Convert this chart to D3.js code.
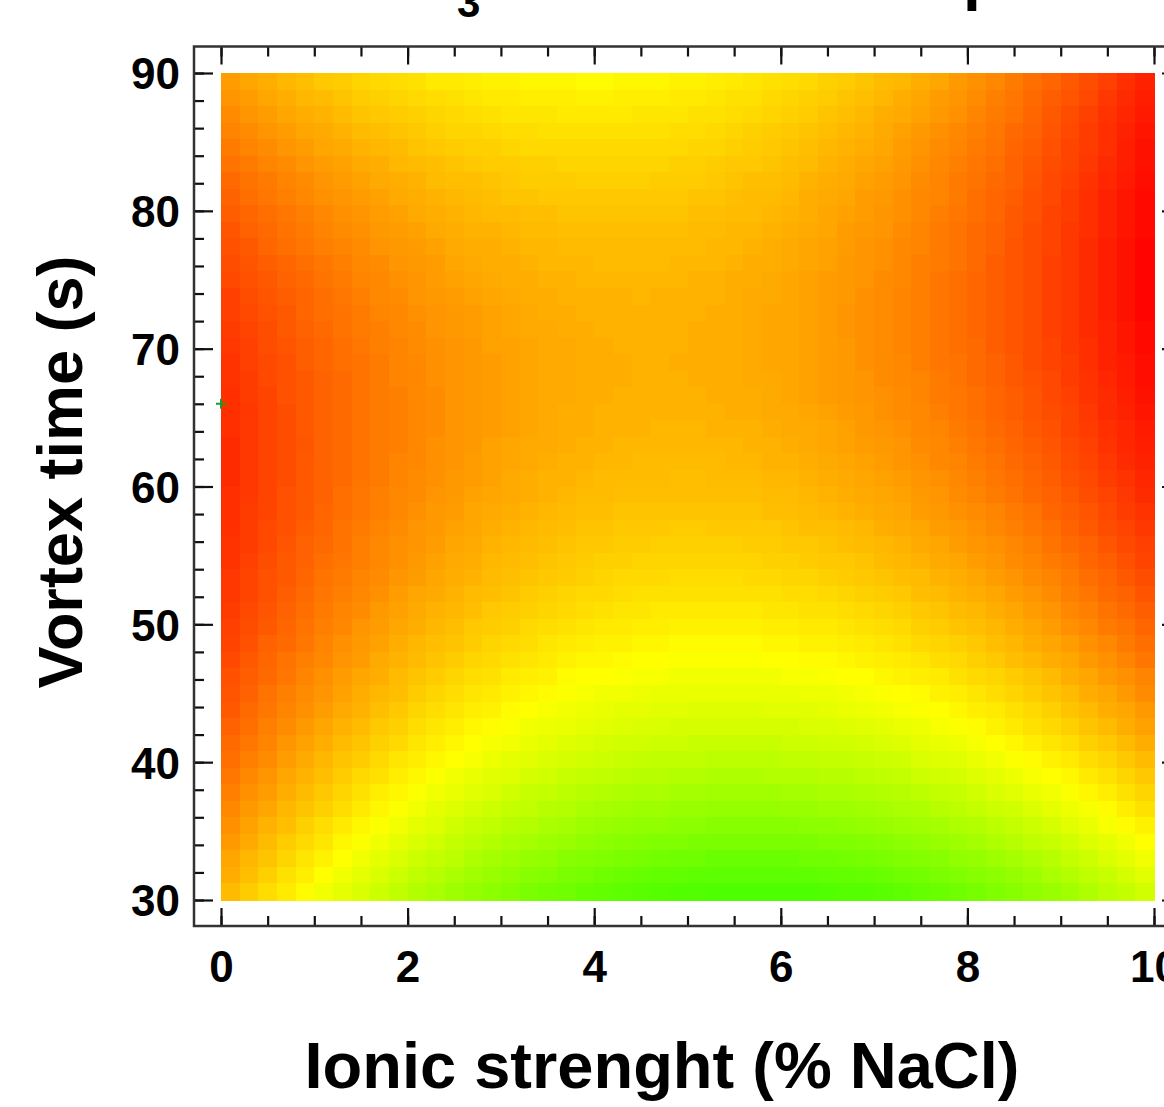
<!DOCTYPE html>
<html>
<head>
<meta charset="utf-8">
<script src="https://cdn.jsdelivr.net/npm/d3@7"></script>
<style>
body { margin: 0; background: #fff; }
svg { display: block; font-family: "Liberation Sans", Arial, sans-serif; font-weight: bold; }
</style>
</head>
<body>
<svg id="chart" width="1164" height="1107"></svg>
<script>

// centres of the density grid: columns in % NaCl, rows in seconds (top row first)
var nacl = [0.1,0.3,0.5,0.7,0.9,1.1,1.3,1.5,1.7,1.9,2.1,2.3,2.5,2.7,2.9,3.1,3.3,3.5,3.7,3.9,
            4.1,4.3,4.5,4.7,4.9,5.1,5.3,5.5,5.7,5.9,6.1,6.3,6.5,6.7,6.9,7.1,7.3,7.5,7.7,7.9,
            8.1,8.3,8.5,8.7,8.9,9.1,9.3,9.5,9.7,9.9];
var vortex = [89.4,88.2,87.0,85.8,84.6,83.4,82.2,81.0,79.8,78.6,77.4,76.2,75.0,73.8,72.6,71.4,70.2,69.0,67.8,66.6,
              65.4,64.2,63.0,61.8,60.6,59.4,58.2,57.0,55.8,54.6,53.4,52.2,51.0,49.8,48.6,47.4,46.2,45.0,43.8,42.6,
              41.4,40.2,39.0,37.8,36.6,35.4,34.2,33.0,31.8,30.6];

// response (0 = red ... 108 = green)
var response = [
  [37,39,41,43,45,47,48,50,51,52,53,55,55,56,57,57,58,58,58,59,59,58,58,58,57,57,56,55,54,53,52,51,49,48,46,44,43,41,39,36,34,32,29,26,24,21,18,15,11,8],
  [35,37,39,41,43,44,46,48,49,50,51,52,53,54,55,55,56,56,56,57,57,56,56,56,55,55,54,53,53,51,50,49,48,46,45,43,41,39,37,35,33,30,28,25,22,20,17,13,10,7],
  [33,35,37,39,41,42,44,46,47,48,49,50,51,52,53,54,54,54,55,55,55,55,54,54,54,53,53,52,51,50,49,48,46,45,43,41,40,38,36,34,31,29,27,24,21,18,15,12,9,6],
  [31,33,35,37,39,40,42,44,45,46,47,49,50,50,51,52,52,53,53,53,53,53,53,53,52,52,51,50,49,48,47,46,45,43,42,40,38,36,34,32,30,28,25,23,20,17,14,11,8,5],
  [29,31,33,35,37,39,40,42,43,44,46,47,48,49,49,50,51,51,51,51,51,51,51,51,51,50,50,49,48,47,46,45,43,42,41,39,37,35,33,31,29,27,24,22,19,16,14,11,7,4],
  [27,29,31,33,35,37,38,40,41,43,44,45,46,47,48,48,49,49,50,50,50,50,50,50,49,49,48,47,47,46,45,44,42,41,39,38,36,34,32,30,28,26,23,21,18,16,13,10,7,4],
  [25,27,29,31,33,35,37,38,40,41,42,44,45,45,46,47,48,48,48,49,49,49,49,48,48,48,47,46,45,45,44,42,41,40,38,37,35,33,31,29,27,25,23,20,17,15,12,9,6,3],
  [23,26,28,30,32,34,35,37,38,40,41,42,43,44,45,46,46,47,47,47,47,47,47,47,47,46,46,45,44,44,43,41,40,39,37,36,34,32,31,29,26,24,22,19,17,14,11,8,5,2],
  [22,24,26,28,30,32,34,35,37,38,40,41,42,43,44,44,45,45,46,46,46,46,46,46,46,45,45,44,44,43,42,41,39,38,37,35,34,32,30,28,26,24,21,19,16,14,11,8,5,2],
  [20,23,25,27,29,31,33,34,36,37,38,40,41,42,42,43,44,44,45,45,45,45,45,45,45,44,44,43,43,42,41,40,39,37,36,35,33,31,29,27,25,23,21,18,16,13,11,8,5,2],
  [19,21,24,26,28,30,31,33,35,36,37,38,40,41,41,42,43,43,44,44,44,44,44,44,44,44,43,43,42,41,40,39,38,37,35,34,32,31,29,27,25,23,20,18,16,13,10,7,4,1],
  [18,20,22,24,26,28,30,32,33,35,36,37,39,40,41,41,42,43,43,43,44,44,44,44,43,43,43,42,41,41,40,39,38,36,35,34,32,30,29,27,25,22,20,18,15,13,10,7,4,1],
  [17,19,21,23,25,27,29,31,32,34,35,37,38,39,40,41,41,42,42,43,43,43,43,43,43,42,42,41,41,40,39,38,37,36,35,33,32,30,28,26,24,22,20,18,15,13,10,7,4,1],
  [15,18,20,22,24,26,28,30,32,33,35,36,37,38,39,40,41,41,42,42,42,42,43,42,42,42,42,41,40,40,39,38,37,36,34,33,31,30,28,26,24,22,20,18,15,13,10,7,4,1],
  [15,17,19,21,24,26,27,29,31,32,34,35,36,37,38,39,40,41,41,42,42,42,42,42,42,42,41,41,40,39,39,38,37,35,34,33,31,30,28,26,24,22,20,18,15,13,10,7,4,1],
  [14,16,18,21,23,25,27,29,30,32,33,35,36,37,38,39,40,40,41,41,42,42,42,42,42,41,41,41,40,39,39,38,37,35,34,33,31,30,28,26,24,22,20,18,15,13,10,8,5,2],
  [13,15,18,20,22,24,26,28,30,31,33,34,35,36,38,38,39,40,40,41,41,42,42,42,42,41,41,41,40,39,39,38,37,36,34,33,31,30,28,26,25,22,20,18,16,13,11,8,5,2],
  [12,15,17,19,22,24,26,27,29,31,32,34,35,36,37,38,39,40,40,41,41,41,42,42,41,41,41,41,40,39,39,38,37,36,34,33,32,30,28,27,25,23,21,18,16,14,11,8,6,3],
  [12,14,17,19,21,23,25,27,29,31,32,34,35,36,37,38,39,40,40,41,41,41,42,42,42,41,41,41,40,40,39,38,37,36,35,33,32,31,29,27,25,23,21,19,17,14,12,9,6,3],
  [11,14,16,19,21,23,25,27,29,30,32,33,35,36,37,38,39,40,40,41,41,42,42,42,42,42,41,41,41,40,39,38,37,36,35,34,33,31,29,28,26,24,22,20,17,15,12,10,7,4],
  [11,13,16,18,21,23,25,27,29,30,32,33,35,36,37,38,39,40,41,41,42,42,42,42,42,42,42,41,41,40,40,39,38,37,36,34,33,32,30,28,26,24,22,20,18,16,13,10,8,5],
  [11,13,16,18,21,23,25,27,29,30,32,33,35,36,37,38,39,40,41,41,42,42,42,43,43,43,42,42,42,41,40,40,39,38,36,35,34,32,31,29,27,25,23,21,19,16,14,11,9,6],
  [10,13,16,18,20,23,25,27,29,30,32,34,35,36,38,39,40,40,41,42,42,43,43,43,43,43,43,43,42,42,41,40,39,38,37,36,35,33,32,30,28,26,24,22,20,17,15,12,9,7],
  [10,13,16,18,21,23,25,27,29,31,32,34,35,37,38,39,40,41,42,42,43,43,44,44,44,44,44,43,43,42,42,41,40,39,38,37,35,34,32,31,29,27,25,23,21,18,16,13,10,8],
  [10,13,16,18,21,23,25,27,29,31,33,34,36,37,38,40,41,42,42,43,44,44,44,44,45,45,44,44,44,43,43,42,41,40,39,38,37,35,34,32,30,28,26,24,22,19,17,14,12,9],
  [11,13,16,19,21,23,26,28,30,32,33,35,36,38,39,40,41,42,43,44,44,45,45,45,45,45,45,45,45,44,44,43,42,41,40,39,38,36,35,33,31,29,27,25,23,21,18,16,13,10],
  [11,14,16,19,21,24,26,28,30,32,34,36,37,39,40,41,42,43,44,45,45,46,46,46,46,46,46,46,46,45,45,44,43,42,41,40,39,37,36,34,33,31,29,27,24,22,20,17,14,12],
  [11,14,17,19,22,24,27,29,31,33,35,36,38,39,41,42,43,44,45,46,46,47,47,47,48,48,47,47,47,47,46,45,45,44,43,41,40,39,37,36,34,32,30,28,26,23,21,18,16,13],
  [12,14,17,20,23,25,27,30,32,34,35,37,39,40,42,43,44,45,46,47,47,48,48,49,49,49,49,49,48,48,47,47,46,45,44,43,42,40,39,37,35,34,32,30,27,25,23,20,17,15],
  [12,15,18,21,23,26,28,30,32,34,36,38,40,41,43,44,45,46,47,48,49,49,50,50,50,50,50,50,50,49,49,48,47,47,46,44,43,42,40,39,37,35,33,31,29,27,24,22,19,16],
  [13,16,19,21,24,27,29,31,33,35,37,39,41,42,44,45,46,47,48,49,50,51,51,51,52,52,52,52,51,51,50,50,49,48,47,46,45,44,42,41,39,37,35,33,31,29,26,24,21,18],
  [13,16,19,22,25,28,30,32,34,37,39,40,42,44,45,46,48,49,50,51,51,52,53,53,53,53,53,53,53,53,52,52,51,50,49,48,47,45,44,42,41,39,37,35,33,30,28,25,23,20],
  [14,17,20,23,26,29,31,33,36,38,40,42,43,45,47,48,49,50,51,52,53,54,54,55,55,55,55,55,55,54,54,53,53,52,51,50,49,47,46,44,43,41,39,37,35,32,30,27,25,22],
  [15,18,21,24,27,30,32,35,37,39,41,43,45,47,48,49,51,52,53,54,55,55,56,56,57,57,57,57,57,56,56,55,55,54,53,52,51,49,48,46,45,43,41,39,37,34,32,29,27,24],
  [16,19,23,25,28,31,34,36,38,41,43,45,46,48,50,51,52,54,55,56,57,57,58,58,59,59,59,59,59,58,58,57,57,56,55,54,53,51,50,49,47,45,43,41,39,37,34,32,29,26],
  [17,21,24,27,30,32,35,37,40,42,44,46,48,50,51,53,54,55,57,58,58,59,60,60,61,61,61,61,61,60,60,59,59,58,57,56,55,54,52,51,49,47,45,43,41,39,36,34,31,28],
  [19,22,25,28,31,34,37,39,41,44,46,48,50,52,53,55,56,57,59,60,60,61,62,62,63,63,63,63,63,63,62,62,61,60,60,58,57,56,55,53,51,50,48,46,44,41,39,36,34,31],
  [20,23,27,30,33,35,38,41,43,45,48,50,52,54,55,57,58,59,61,62,63,63,64,65,65,65,65,65,65,65,65,64,64,63,62,61,60,59,57,56,54,52,50,48,46,44,41,39,36,33],
  [21,25,28,31,34,37,40,42,45,47,50,52,54,56,57,59,60,62,63,64,65,66,66,67,67,68,68,68,68,67,67,67,66,65,64,63,62,61,60,58,56,55,53,51,49,46,44,41,39,36],
  [23,26,30,33,36,39,42,44,47,49,52,54,56,58,59,61,63,64,65,66,67,68,69,69,70,70,70,70,70,70,70,69,69,68,67,66,65,64,62,61,59,57,55,53,51,49,46,44,41,38],
  [25,28,31,35,38,41,44,46,49,51,54,56,58,60,62,63,65,66,68,69,70,71,71,72,72,73,73,73,73,73,72,72,71,71,70,69,68,66,65,64,62,60,58,56,54,52,49,47,44,41],
  [26,30,33,37,40,43,46,48,51,54,56,58,60,62,64,66,67,69,70,71,72,73,74,75,75,75,76,76,76,76,75,75,74,74,73,72,71,69,68,67,65,63,61,59,57,55,52,50,47,44],
  [28,32,35,39,42,45,48,51,53,56,58,61,63,65,67,68,70,71,73,74,75,76,77,77,78,78,79,79,79,78,78,78,77,77,76,75,74,72,71,70,68,66,64,62,60,58,55,53,50,47],
  [30,34,37,41,44,47,50,53,56,58,61,63,65,67,69,71,73,74,76,77,78,79,80,80,81,81,82,82,82,82,81,81,80,80,79,78,77,76,74,73,71,69,67,65,63,61,58,56,53,50],
  [32,36,39,43,46,49,52,55,58,61,63,66,68,70,72,74,75,77,78,80,81,82,83,83,84,84,85,85,85,85,84,84,83,83,82,81,80,79,77,76,74,72,71,69,66,64,62,59,56,53],
  [34,38,42,45,49,52,55,58,61,63,66,68,71,73,75,77,78,80,81,83,84,85,86,86,87,87,88,88,88,88,88,87,87,86,85,84,83,82,81,79,78,76,74,72,70,67,65,62,59,57],
  [36,40,44,48,51,54,58,61,63,66,69,71,74,76,78,80,81,83,84,86,87,88,89,90,90,91,91,91,91,91,91,91,90,90,89,88,87,86,84,83,81,79,77,75,73,71,68,66,63,60],
  [39,43,46,50,54,57,60,63,66,69,72,74,76,79,81,83,85,86,88,89,90,91,92,93,94,94,95,95,95,95,95,94,94,93,92,91,90,89,88,86,85,83,81,79,77,74,72,69,66,63],
  [41,45,49,53,56,60,63,66,69,72,75,77,80,82,84,86,88,89,91,92,94,95,96,97,97,98,98,98,98,98,98,98,97,97,96,95,94,93,91,90,88,87,85,83,80,78,75,73,70,67],
  [44,48,52,55,59,63,66,69,72,75,78,80,83,85,87,89,91,93,94,96,97,98,99,100,101,101,102,102,102,102,102,102,101,100,100,99,98,96,95,94,92,90,88,86,84,82,79,76,74,71]
];

var xTicks = [0, 2, 4, 6, 8, 10];
var yTicks = [30, 40, 50, 60, 70, 80, 90];
var marker = [{nacl: 0, vortex: 66}];

var svg = d3.select('#chart');

var x = d3.scaleLinear().domain([0, 10]).range([221, 1154]);
var y = d3.scaleLinear().domain([30, 90]).range([900, 73]);
var color = d3.scaleLinear()
    .domain([0, 108])
    .range([d3.hsl(0, 1, 0.5), d3.hsl(108, 1, 0.5)])
    .interpolate(d3.interpolateHsl);

// frame sits a little outside the data range
var frame = {left: 194, right: 1181, top: 46.5, bottom: 926};

// density cells
var dx = nacl[1] - nacl[0];
var dy = vortex[0] - vortex[1];
var cells = [];
for (var i=0; i<vortex.length; i++)
    for (var j=0; j<nacl.length; j++)
        cells.push({nacl: nacl[j], vortex: vortex[i], v: response[i][j]});

svg.append('g')
    .attr('shape-rendering', 'crispEdges')
  .selectAll('rect')
  .data(cells)
  .enter().append('rect')
    .attr('x', function(d) { return x(d.nacl - dx/2); })
    .attr('y', function(d) { return y(d.vortex + dy/2); })
    .attr('width', x(dx) - x(0) + 0.6)
    .attr('height', y(0) - y(dy) + 0.6)
    .attr('fill', function(d) { return color(d.v); });

// marker at the left edge
svg.selectAll('.marker')
  .data(marker)
  .enter().append('path')
    .attr('class', 'marker')
    .attr('d', function(d) {
        var cx = x(d.nacl), cy = y(d.vortex);
        return 'M'+(cx-5)+','+cy+'H'+(cx+5)+'M'+cx+','+(cy-5)+'V'+(cy+5);
    })
    .attr('stroke', '#1e9a2a')
    .attr('stroke-width', 2);

// axes: ticks point inward on all four sides
function styleAxis(g)
{
    g.select('.domain').remove();
    g.selectAll('line').attr('stroke', '#111').attr('stroke-width', 2.2);
    g.selectAll('text').attr('fill', '#000').style('font-size', '44px')
        .style('font-family', '"Liberation Sans", Arial, sans-serif').style('font-weight', 'bold');
}

var xMinor = x.ticks(20), yMinor = y.ticks(30);

svg.append('g').attr('transform', 'translate(0,'+frame.bottom+')')
    .call(d3.axisBottom(x).tickValues(xMinor).tickSize(-10).tickFormat(''))
    .call(styleAxis);
svg.append('g').attr('transform', 'translate(0,'+frame.bottom+')')
    .call(d3.axisBottom(x).tickValues(xTicks).tickSize(-18).tickPadding(25).tickFormat(d3.format('d')))
    .call(styleAxis);
svg.append('g').attr('transform', 'translate(0,'+frame.top+')')
    .call(d3.axisTop(x).tickValues(xMinor).tickSize(-10).tickFormat(''))
    .call(styleAxis);
svg.append('g').attr('transform', 'translate(0,'+frame.top+')')
    .call(d3.axisTop(x).tickValues(xTicks).tickSize(-18).tickFormat(''))
    .call(styleAxis);

svg.append('g').attr('transform', 'translate('+frame.left+',0)')
    .call(d3.axisLeft(y).tickValues(yMinor).tickSize(-10).tickFormat(''))
    .call(styleAxis);
svg.append('g').attr('transform', 'translate('+frame.left+',0)')
    .call(d3.axisLeft(y).tickValues(yTicks).tickSize(-19).tickPadding(14).tickFormat(d3.format('d')))
    .call(styleAxis)
    .selectAll('text').attr('dy', '0.36em');
svg.append('g').attr('transform', 'translate('+frame.right+',0)')
    .call(d3.axisRight(y).tickValues(yMinor).tickSize(-10).tickFormat(''))
    .call(styleAxis);
svg.append('g').attr('transform', 'translate('+frame.right+',0)')
    .call(d3.axisRight(y).tickValues(yTicks).tickSize(-19).tickFormat(''))
    .call(styleAxis);

svg.append('rect')
    .attr('x', frame.left).attr('y', frame.top)
    .attr('width', frame.right - frame.left).attr('height', frame.bottom - frame.top)
    .attr('fill', 'none').attr('stroke', '#333').attr('stroke-width', 2.5);

// axis titles
svg.append('text')
    .attr('x', 662).attr('y', 1088)
    .attr('text-anchor', 'middle')
    .style('font-size', '65px')
    .text('Ionic strenght (% NaCl)');

svg.append('text')
    .attr('transform', 'translate(82,472) rotate(-90)')
    .attr('text-anchor', 'middle')
    .style('font-size', '63px')
    .text('Vortex time (s)');

// plot title, sits above the visible area: only the subscript and one descender show
var title = svg.append('g').style('font-size', '64px');
title.append('text').attr('x', 455).attr('y', -4).attr('text-anchor', 'end').text('Effect of CHCl');
title.append('text').attr('x', 457).attr('y', 17).style('font-size', '42px').text('3');
title.append('text').attr('x', 963).attr('y', -4).attr('text-anchor', 'end').text(' volume at the o');
title.append('text').attr('x', 963).attr('y', -2).text('p');
title.append('text').attr('x', 1002).attr('y', -4).text('timum');

</script>
</body>
</html>
